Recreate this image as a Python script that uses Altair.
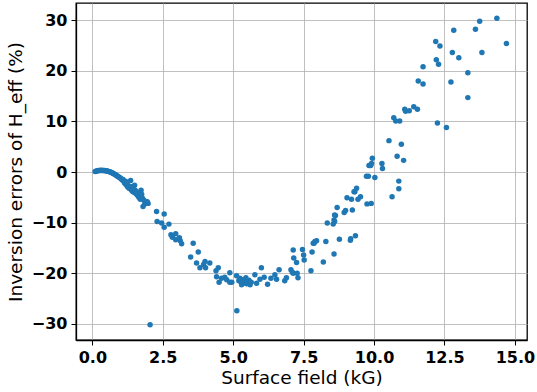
import altair as alt
import pandas as pd

# Surface field (kG)
field = [
    0.10, 0.13, 0.16, 0.19, 0.22, 0.25, 0.28, 0.31, 0.34, 0.37, 0.40, 0.43, 0.46, 0.49, 0.52, 0.55,
    0.58, 0.61, 0.64, 0.67, 0.70, 0.73, 0.76, 0.79, 0.82, 0.85, 0.88, 0.91, 0.94, 0.97, 1.00, 1.03,
    1.06, 1.09, 1.12, 1.15, 1.18, 1.20, 1.23, 1.25, 1.28, 1.30, 1.33, 1.36, 1.38, 1.40, 1.42, 1.45,
    1.47, 1.50, 1.52, 1.55, 1.57, 1.60, 1.62, 1.65, 1.68, 1.70, 1.73, 1.75, 1.78, 1.80, 1.83, 1.86,
    1.90, 1.95, 1.98,
    2.05, 2.28, 2.30, 2.46, 2.55, 2.55, 2.72, 2.79, 2.84, 2.96, 2.96, 3.09, 3.12, 3.17,
    3.49, 3.58, 3.76, 3.70, 3.82, 3.95, 4.00, 4.02, 4.17, 4.39, 4.47, 4.41, 4.50, 4.59, 4.70, 4.77,
    4.88, 4.88, 4.95,
    5.12, 5.13, 5.20, 5.24, 5.28, 5.32, 5.36, 5.40, 5.44, 5.48, 5.52, 5.56, 5.60, 5.64, 5.30, 5.45,
    5.77, 5.83, 5.95, 6.00, 6.10, 6.22, 6.34, 6.48, 6.54, 6.63, 6.83, 6.89, 7.05, 7.13, 7.13, 7.15,
    7.25, 7.27, 7.30, 7.10,
    7.46, 7.50, 7.52, 7.76, 7.80, 7.87, 7.96, 8.20, 8.29, 8.34, 8.55, 8.58, 8.63, 8.58, 8.69, 8.77,
    8.94, 8.99, 7.84, 7.90, 8.60, 8.60,
    9.04, 9.20, 9.23, 9.16, 9.34, 9.32, 9.38, 9.43, 9.52, 9.75, 9.90, 9.73, 9.80, 10.03, 9.88, 9.91,
    9.94, 10.28, 10.30, 10.64, 10.88, 10.88, 11.05, 10.53, 10.97, 10.82, 9.82, 9.29, 9.17,
    10.70, 10.77, 10.91, 11.09, 11.12, 11.25, 11.41, 11.54, 11.57, 11.74, 11.74, 12.19, 12.34, 12.21,
    12.29, 12.25, 12.57, 12.73, 12.78, 12.83, 13.01, 13.33, 13.33, 13.60, 13.75, 13.83, 14.36, 14.70,
]

# Inversion errors of H_eff (%)
error = [
    0.10, 0.15, 0.20, 0.25, 0.30, 0.30, 0.30, 0.35, 0.30, 0.30, 0.30, 0.30, 0.25, 0.25, 0.20, 0.15,
    0.10, 0.05, 0.00, -0.10, -0.15, -0.25, -0.35, -0.45, -0.55, -0.65, -0.80, -0.90, -1.00, -1.10, -1.25, -1.40,
    -1.6, -1.5, -1.9, -2.2, -1.8, -2.5, -2.2, -2.9, -2.7, -3.2, -3.0, -1.7, -3.5, -2.9, -3.8, -3.3,
    -4.0, -2.6, -3.6, -4.3, -3.9, -4.6, -4.2, -5.0, -4.7, -5.4, -3.6, -4.4, -5.2, -6.8, -5.6, -6.3,
    -5.9, -5.9, -6.2,
    -30.2, -7.8, -9.8, -10.1, -8.3, -10.9, -10.3, -12.4, -12.9, -12.2, -13.4, -13.0, -13.6, -14.2,
    -16.8, -14.1, -15.8, -18.0, -18.9, -18.3, -17.7, -18.9, -18.0, -19.5, -18.9, -20.7, -21.8, -21.0, -20.8, -21.3,
    -19.9, -21.8, -21.8,
    -20.5, -27.4, -21.5, -21.0, -21.8, -21.3, -22.0, -21.6, -21.2, -22.1, -21.7, -21.4, -22.3, -21.8, -22.3, -20.9,
    -20.3, -22.0, -21.2, -18.9, -20.8, -22.2, -21.0, -20.3, -21.2, -19.3, -21.5, -20.9, -19.3, -20.0, -15.4, -17.0,
    -17.9, -20.0, -20.9, -19.8,
    -15.3, -16.4, -17.4, -19.5, -15.8, -14.1, -13.6, -17.8, -13.75, -10.1, -10.3, -9.5, -8.6, -16.2, -7.0, -13.3,
    -8.0, -7.6, -14.1, -13.75, -8.5, -9.8,
    -5.1, -5.4, -7.5, -13.5, -12.6, -3.9, -3.2, -5.4, -4.9, -6.3, -6.2, -0.85, -0.85, -1.1, 1.3, 1.7,
    2.7, 1.7, 0.7, -4.9, -1.8, -3.3, 2.3, 6.2, 5.5, 3.1, 1.3, -3.9, -13.2,
    10.7, 10.1, 10.1, 12.4, 12.0, 12.1, 12.9, 12.4, 18.0, 17.4, 20.8, 25.8, 24.9, 22.2,
    21.3, 9.7, 8.8, 17.8, 23.6, 28.0, 22.6, 19.6, 14.7, 28.2, 29.8, 23.6, 30.4, 25.4,
]

x_ticks = [0.0, 2.5, 5.0, 7.5, 10.0, 12.5, 15.0]
y_ticks = [-30, -20, -10, 0, 10, 20, 30]

df = pd.DataFrame({"field": field, "error": error})

font = "DejaVu Sans"

chart = (
    alt.Chart(df)
    .mark_circle(size=30, color="#1f77b4", opacity=1)
    .encode(
        x=alt.X(
            "field:Q",
            scale=alt.Scale(domain=[-0.58, 15.43], nice=False, zero=False),
            axis=alt.Axis(values=x_ticks, format=".1f", title="Surface field (kG)"),
        ),
        y=alt.Y(
            "error:Q",
            scale=alt.Scale(domain=[-33.2, 33.4], nice=False, zero=False),
            axis=alt.Axis(values=y_ticks, format="d", title="Inversion errors of H_eff (%)"),
        ),
    )
    .properties(width=451, height=337, padding={"left": 76, "top": 3, "right": 10, "bottom": 52},
                autosize=alt.AutoSizeParams(type="none"))
    .configure_view(stroke="black", strokeWidth=1.3)
    .configure_axis(
        labelFont=font,
        labelFontSize=16,
        labelFontWeight="bold",
        labelColor="black",
        titleFont=font,
        titleFontSize=18.5,
        titleFontWeight="normal",
        titleColor="black",
        grid=True,
        gridColor="#b0b0b0",
        gridWidth=0.8,
        tickColor="black",
        tickSize=5,
        tickWidth=1,
        domainColor="black",
        domainWidth=1.3,
        labelPadding=4,
    )
    .configure_axisX(titlePadding=3)
    .configure_axisY(titlePadding=6)
)

chart.save("out.html", embed_options={"renderer": "svg", "actions": False})
